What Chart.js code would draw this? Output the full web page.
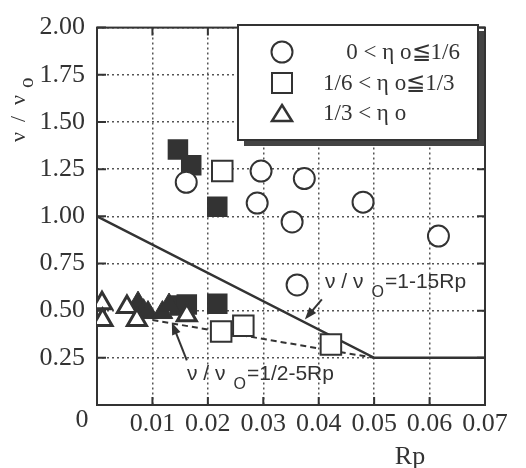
<!DOCTYPE html>
<html>
<head>
<meta charset="utf-8">
<script src="https://cdn.jsdelivr.net/npm/chart.js@4"></script>
<style>
body{margin:0;background:#fff;}
#wrap{width:526px;height:468px;position:relative;}
</style>
</head>
<body>
<div id="wrap"><canvas id="grafico"></canvas></div>
<script>

// ---------------------
// DADOS
// ---------------------

const xTicks=[0,0.01,0.02,0.03,0.04,0.05,0.06,0.07];
const xTickLabels=["","0.01","0.02","0.03","0.04","0.05","0.06","0.07"];
const yTicks=[0,0.25,0.5,0.75,1,1.25,1.5,1.75,2];
const yTickLabels=["","0.25","0.50","0.75","1.00","1.25","1.50","1.75","2.00"];

// 0 < eta o <= 1/6 (circulos)
const circRp=[0.0161,0.0296,0.0374,0.0289,0.0480,0.0352,0.0616,0.0361];
const circV =[1.18,1.24,1.20,1.07,1.075,0.97,0.895,0.636];

// 1/6 < eta o <= 1/3 (quadrados)
const quadRp=[0.0226,0.0224,0.0264,0.0422];
const quadV =[1.24,0.39,0.42,0.32];
const quadCheioRp=[0.0146,0.0170,0.0217,0.0217,0.0150,0.0162];
const quadCheioV =[1.354,1.27,1.05,0.537,0.527,0.532];

// 1/3 < eta o (triangulos)
const triRp=[0.0009,0.0010,0.0054,0.0072,0.0162];
const triV =[0.539,0.45,0.52,0.45,0.475];
const triCheioRp=[0.0074,0.0084,0.0092,0.0118,0.0130];
const triCheioV =[0.54,0.50,0.49,0.49,0.53];

// curvas de referencia
const linha1Rp=[0,0.05,0.07];
const linha1V =[1,0.25,0.25];
const linha2Rp=[0.010,0.05];
const linha2V =[0.45,0.25];

const tinta="#333";

function pontos(xs,ys){
    return xs.map((x,i)=>({x:x,y:ys[i]}));
}

// ---------------------
// DESENHOS EXTRAS
// ---------------------

function textoNu(ctx,x,y,resto,tam){
    ctx.font=tam+"px 'Liberation Sans', Arial, sans-serif";
    ctx.textAlign="left";
    ctx.textBaseline="alphabetic";
    ctx.fillText("ν / ν",x,y);
    let px=x+ctx.measureText("ν / ν").width+8;
    ctx.font=Math.round(tam*0.75)+"px 'Liberation Sans', Arial, sans-serif";
    ctx.fillText("O",px,y+9);
    px+=ctx.measureText("O").width+1;
    ctx.font=tam+"px 'Liberation Sans', Arial, sans-serif";
    ctx.fillText(resto,px,y);
}

function seta(ctx,x0,y0,x1,y1){
    const ang=Math.atan2(y1-y0,x1-x0);
    ctx.lineWidth=2;
    ctx.beginPath();
    ctx.moveTo(x0,y0);
    ctx.lineTo(x1-Math.cos(ang)*8,y1-Math.sin(ang)*8);
    ctx.stroke();
    ctx.beginPath();
    ctx.moveTo(x1,y1);
    ctx.lineTo(x1-Math.cos(ang-0.35)*13,y1-Math.sin(ang-0.35)*13);
    ctx.lineTo(x1-Math.cos(ang+0.35)*13,y1-Math.sin(ang+0.35)*13);
    ctx.closePath();
    ctx.fill();
}

const extras={
    id:"extras",
    beforeDatasetsDraw(chart){
        const ctx=chart.ctx, a=chart.chartArea;
        const sx=chart.scales.x, sy=chart.scales.y;
        ctx.save();
        ctx.strokeStyle=tinta;
        ctx.lineWidth=2;
        ctx.strokeRect(a.left,a.top,a.right-a.left,a.bottom-a.top);
        ctx.beginPath();
        xTicks.forEach(v=>{
            const p=sx.getPixelForValue(v);
            ctx.moveTo(p,a.bottom);ctx.lineTo(p,a.bottom-8);
            ctx.moveTo(p,a.top);ctx.lineTo(p,a.top+8);
        });
        yTicks.forEach(v=>{
            const p=sy.getPixelForValue(v);
            ctx.moveTo(a.left,p);ctx.lineTo(a.left+9,p);
            ctx.moveTo(a.right,p);ctx.lineTo(a.right-8,p);
        });
        ctx.stroke();
        ctx.restore();
    },
    afterDraw(chart){
        const ctx=chart.ctx, a=chart.chartArea;
        const sx=chart.scales.x, sy=chart.scales.y;
        ctx.save();
        ctx.fillStyle=tinta;
        ctx.strokeStyle=tinta;

        // origem "0"
        ctx.font="26px 'Liberation Serif', 'Times New Roman', serif";
        ctx.textAlign="center";
        ctx.textBaseline="middle";
        ctx.fillText("0",a.left-15,a.bottom+15);

        // titulo eixo x
        ctx.fillText("Rp",a.left+313,a.bottom+52);

        // titulo eixo y
        ctx.save();
        ctx.translate(25,142);
        ctx.rotate(-Math.PI/2);
        ctx.textAlign="left";
        ctx.textBaseline="alphabetic";
        ctx.font="22px 'Liberation Serif', serif";
        ctx.fillText("ν",0,0);
        ctx.fillText("/",20,0);
        ctx.fillText("ν",37,0);
        ctx.font="21px 'Liberation Serif', serif";
        ctx.fillText("o",54,8);
        ctx.restore();

        // legenda
        const lx=238, ly=25, lw=240, lh=115;
        ctx.fillStyle="#444";
        ctx.fillRect(lx+6,ly+6,lw,lh);
        ctx.fillStyle="#fff";
        ctx.fillRect(lx,ly,lw,lh);
        ctx.lineWidth=2;
        ctx.strokeRect(lx,ly,lw,lh);
        ctx.fillStyle=tinta;
        const cx=lx+44;
        ctx.lineWidth=2;
        ctx.beginPath();ctx.arc(cx,ly+27,10.5,0,Math.PI*2);ctx.stroke();
        ctx.strokeRect(cx-10,ly+48,20,20);
        ctx.lineWidth=2.5;
        ctx.beginPath();
        ctx.moveTo(cx,ly+80);ctx.lineTo(cx+10,ly+96);ctx.lineTo(cx-10,ly+96);ctx.closePath();ctx.stroke();
        ctx.font="23px 'Liberation Serif', 'Times New Roman', serif";
        ctx.textBaseline="middle";
        ctx.textAlign="right";
        ctx.fillText("0 < η o≦1/6",lx+222,ly+28);
        ctx.textAlign="left";
        ctx.fillText("1/6 < η o≦1/3",lx+85,ly+59);
        ctx.fillText("1/3 < η o",lx+85,ly+89);

        // anotacoes
        ctx.fillStyle=tinta;
        textoNu(ctx,325,288,"=1-15Rp",21);
        textoNu(ctx,187,380,"=1/2-5Rp",21);
        const t1x=sx.getPixelForValue(0.0375), t1y=sy.getPixelForValue(1-15*0.0375)-3;
        seta(ctx,t1x+17,t1y-20,t1x,t1y);
        const t2x=sx.getPixelForValue(0.0135), t2y=sy.getPixelForValue(0.5-5*0.0135)-1;
        seta(ctx,t2x+15,t2y+38,t2x,t2y);
        ctx.restore();
    }
};

// ---------------------
// GRAFICO
// ---------------------

const fonteTick={family:"'Liberation Serif', 'Times New Roman', serif",size:26};

new Chart(document.getElementById("grafico"),{

    type:"scatter",

    data:{
        datasets:[
            {data:pontos(linha1Rp,linha1V),showLine:true,borderColor:tinta,borderWidth:2.5,pointRadius:0,order:10},
            {data:pontos(linha2Rp,linha2V),showLine:true,borderColor:tinta,borderWidth:2,borderDash:[6,4],pointRadius:0,order:10},
            {data:pontos(quadCheioRp,quadCheioV),pointStyle:"rect",pointRadius:14.5,backgroundColor:tinta,borderColor:tinta,borderWidth:0,order:6},
            {data:pontos(triCheioRp,triCheioV),pointStyle:"triangle",pointRadius:12,backgroundColor:tinta,borderColor:tinta,borderWidth:1,order:5},
            {data:pontos(circRp,circV),pointStyle:"circle",pointRadius:10.5,backgroundColor:"#fff",borderColor:tinta,borderWidth:2,order:3},
            {data:pontos(quadRp,quadV),pointStyle:"rect",pointRadius:14.5,backgroundColor:"#fff",borderColor:tinta,borderWidth:2,order:2},
            {data:pontos(triRp,triV),pointStyle:"triangle",pointRadius:11,backgroundColor:"#fff",borderColor:tinta,borderWidth:3,order:1}
        ]
    },

    options:{
        responsive:true,
        maintainAspectRatio:false,
        animation:false,
        layout:{padding:{top:18,right:41,left:0,bottom:0}},
        plugins:{legend:{display:false},tooltip:{enabled:false}},
        scales:{
            x:{
                type:"linear",min:0,max:0.07,
                afterFit:s=>{s.height=63;},
                afterBuildTicks:s=>{s.ticks=xTicks.map(v=>({value:v}));},
                ticks:{autoSkip:false,maxRotation:0,padding:4,color:tinta,font:fonteTick,
                    callback:(v,i)=>xTickLabels[i]},
                grid:{color:"#555",lineWidth:1.5,drawTicks:false},
                border:{display:false,dash:[2,3]}
            },
            y:{
                type:"linear",min:0,max:2,
                afterFit:s=>{s.width=97;},
                afterBuildTicks:s=>{s.ticks=yTicks.map(v=>({value:v}));},
                ticks:{padding:12,color:tinta,font:fonteTick,
                    callback:(v,i)=>yTickLabels[i]},
                grid:{color:"#555",lineWidth:1.5,drawTicks:false},
                border:{display:false,dash:[2,3]}
            }
        }
    },

    plugins:[extras]

});

</script>
</body>
</html>
